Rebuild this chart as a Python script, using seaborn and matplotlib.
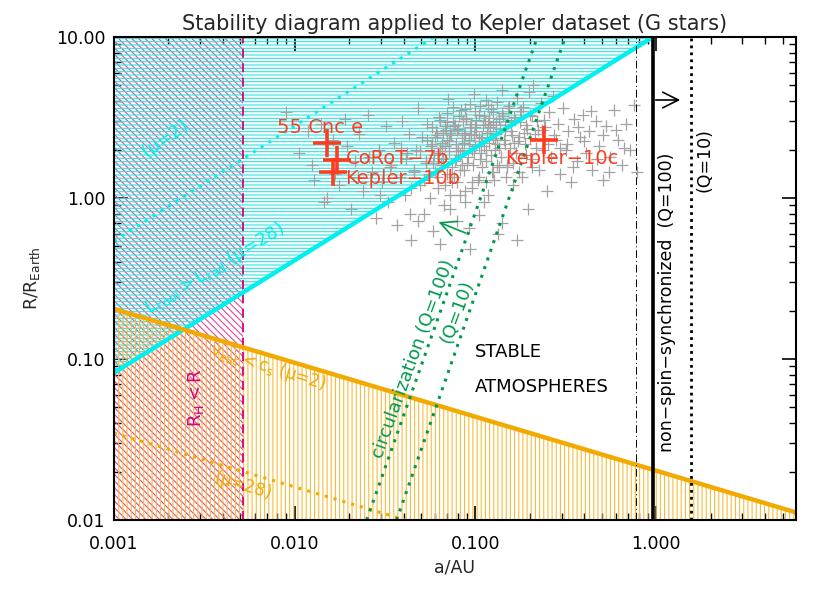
import numpy as np
import pandas as pd
import matplotlib
matplotlib.use("Agg")
import matplotlib.pyplot as plt
import seaborn as sns

# ---- data ----
# Kepler candidates (G stars): semi-major axis [AU], radius [R_Earth]
kepler_a = [
    0.0090, 0.0105, 0.0118, 0.0128, 0.0140, 0.0150, 0.0162, 0.0175, 0.0190, 0.0205,
    0.0215, 0.0228, 0.0240, 0.0255, 0.0268, 0.0280, 0.0292, 0.0305, 0.0318, 0.0330,
    0.0342, 0.0355, 0.0368, 0.0380, 0.0392, 0.0405, 0.0418, 0.0430, 0.0442, 0.0455,
    0.0468, 0.0480, 0.0492, 0.0505, 0.0518, 0.0530, 0.0542, 0.0555, 0.0568, 0.0580,
    0.0592, 0.0605, 0.0618, 0.0630, 0.0642, 0.0655, 0.0668, 0.0680, 0.0692, 0.0705,
    0.0718, 0.0730, 0.0742, 0.0755, 0.0768, 0.0780, 0.0792, 0.0805, 0.0818, 0.0830,
    0.0845, 0.0860, 0.0875, 0.0890, 0.0905, 0.0920, 0.0935, 0.0950, 0.0965, 0.0980,
    0.0995, 0.1010, 0.1030, 0.1050, 0.1070, 0.1090, 0.1110, 0.1130, 0.1150, 0.1170,
    0.1190, 0.1210, 0.1230, 0.1255, 0.1280, 0.1305, 0.1330, 0.1355, 0.1380, 0.1405,
    0.1430, 0.1460, 0.1490, 0.1520, 0.1550, 0.1580, 0.1610, 0.1640, 0.1670, 0.1700,
    0.1735, 0.1770, 0.1805, 0.1840, 0.1880, 0.1920, 0.1960, 0.2000, 0.2045, 0.2090,
    0.2140, 0.2190, 0.2240, 0.2300, 0.2360, 0.2420, 0.2480, 0.2550, 0.2620, 0.2700,
    0.2780, 0.2860, 0.2950, 0.3050, 0.3150, 0.3260, 0.3380, 0.3500, 0.3630, 0.3770,
    0.3920, 0.4080, 0.4250, 0.4430, 0.4620, 0.4830, 0.5050, 0.5300, 0.5560, 0.5840,
    0.6140, 0.6460, 0.6800, 0.7150, 0.7500, 0.7850, 0.0620, 0.0700, 0.0780, 0.0860,
    0.0640, 0.0720, 0.0800, 0.0880, 0.0960, 0.1040, 0.1120, 0.1200, 0.1280, 0.1360,
    0.0580, 0.0660, 0.0740, 0.0820, 0.0900, 0.0980, 0.1060, 0.1140, 0.1220, 0.1320,
    0.0540, 0.0610, 0.0690, 0.0770, 0.0850, 0.0930, 0.1010, 0.1100, 0.1190, 0.1300,
    0.0480, 0.0560, 0.0640, 0.0720, 0.0820, 0.0920, 0.1040, 0.1180, 0.1400, 0.1700,
    0.0440, 0.0520, 0.0600, 0.0680, 0.0760, 0.0860, 0.0960, 0.1080, 0.1260, 0.1500,
    0.0575, 0.0635, 0.0695, 0.0755, 0.0815, 0.0875, 0.0935, 0.0995, 0.1065, 0.1145,
    0.1225, 0.1315, 0.1415, 0.1525, 0.1645, 0.1775, 0.1915, 0.2065, 0.2225, 0.2395,
    0.0655, 0.0715, 0.0785, 0.0845, 0.0915, 0.0985, 0.1075, 0.1165, 0.1255, 0.1355,
    0.1465, 0.1585, 0.1715, 0.1855, 0.2005, 0.2165, 0.2335, 0.2515, 0.2715, 0.2935,
    0.0415, 0.0455, 0.0495, 0.0535, 0.0575, 0.0615, 0.0665, 0.0725, 0.0795, 0.0875,
    0.0955, 0.1045, 0.1145, 0.1245, 0.1355, 0.1475, 0.1605, 0.1745, 0.1895, 0.2055,
    0.0125, 0.0145, 0.0168, 0.0195, 0.0225, 0.0258, 0.0296, 0.0338, 0.0385, 0.0435,
    0.3200, 0.3450, 0.3700, 0.4000, 0.4350, 0.4700, 0.5100, 0.5500, 0.6000, 0.6600,
    0.0700, 0.0790, 0.0890, 0.1000, 0.1120, 0.1250, 0.1400, 0.1570, 0.1760, 0.1970,
    0.0600, 0.0680, 0.0760, 0.0840, 0.0940, 0.1050, 0.1170, 0.1310, 0.1460, 0.1630,
]
kepler_r = [
    3.40, 1.90, 2.60, 1.30, 2.90, 1.00, 2.30, 1.20, 3.10, 0.85,
    1.70, 2.50, 1.10, 3.30, 1.45, 0.75, 2.00, 1.25, 2.80, 0.95,
    1.60, 2.20, 0.68, 1.35, 3.00, 1.05, 1.90, 2.50, 0.55, 1.50,
    2.00, 3.60, 1.20, 2.40, 0.80, 1.70, 2.90, 1.40, 2.10, 0.62,
    1.85, 2.60, 1.15, 3.20, 1.60, 2.20, 0.90, 2.80, 1.40, 4.10,
    1.95, 2.45, 1.25, 3.00, 1.70, 2.15, 0.72, 2.70, 1.50, 3.50,
    2.00, 2.55, 1.10, 3.10, 1.80, 2.30, 0.48, 2.90, 1.60, 4.40,
    2.10, 2.60, 1.30, 3.30, 1.90, 2.40, 0.95, 3.00, 1.70, 3.80,
    2.20, 2.75, 1.45, 3.40, 2.00, 2.50, 0.60, 3.10, 1.80, 4.70,
    2.30, 2.85, 1.55, 3.60, 2.05, 2.60, 1.20, 3.20, 1.90, 4.20,
    2.40, 2.95, 1.35, 3.70, 2.15, 2.70, 0.85, 3.30, 1.75, 5.00,
    2.50, 3.00, 1.50, 3.90, 2.00, 2.75, 1.10, 3.40, 1.80, 4.30,
    2.30, 2.90, 1.40, 3.60, 2.00, 2.60, 1.25, 3.10, 1.70, 2.40,
    3.30, 1.90, 2.60, 1.50, 3.00, 2.10, 1.30, 2.80, 1.80, 3.50,
    2.30, 1.60, 2.90, 2.00, 3.80, 1.45, 1.90, 2.30, 1.75, 2.20,
    2.05, 2.55, 1.95, 2.45, 2.00, 2.35, 2.10, 2.60, 2.30, 2.70,
    1.65, 1.75, 1.55, 1.85, 1.65, 1.90, 1.75, 2.00, 1.85, 2.15,
    2.30, 2.45, 2.65, 2.85, 3.00, 2.75, 3.05, 2.85, 3.15, 2.95,
    0.72, 1.00, 0.52, 0.85, 1.05, 0.65, 0.78, 1.05, 0.70, 0.55,
    1.15, 1.30, 1.45, 1.20, 1.35, 1.50, 1.25, 1.55, 1.30, 1.60,
    2.75, 3.05, 3.35, 3.65, 3.25, 3.55, 3.85, 3.45, 3.75, 4.05,
    3.55, 3.95, 3.25, 3.75, 3.05, 3.45, 2.85, 3.25, 2.65, 3.05,
    1.95, 2.25, 2.05, 2.35, 2.15, 2.45, 2.25, 2.55, 2.35, 2.05,
    2.15, 2.45, 2.25, 2.55, 2.35, 2.05, 2.65, 2.15, 2.45, 2.05,
    1.75, 1.45, 1.95, 1.65, 2.15, 1.35, 2.55, 1.05, 1.25, 0.95,
    1.15, 1.35, 1.25, 1.45, 1.55, 1.35, 1.65, 1.45, 1.85, 1.55,
    1.60, 0.95, 1.40, 2.10, 1.35, 1.80, 1.05, 1.55, 2.05, 0.80,
    2.15, 1.55, 2.75, 2.25, 3.45, 1.75, 2.45, 1.45, 2.65, 2.05,
    2.95, 2.65, 3.15, 2.75, 3.25, 2.85, 3.35, 2.95, 3.45, 4.55,
    2.40, 2.10, 2.80, 1.60, 2.50, 2.10, 2.90, 1.60, 2.60, 2.20,
]

# known planets
planet_names = ["55 Cnc e", "CoRoT\u22127b", "Kepler\u221210b", "Kepler\u221210c"]
planet_a = [0.0150, 0.0171, 0.0162, 0.238]
planet_r = [2.20, 1.72, 1.45, 2.29]

# boundary lines (end points, straight on log-log)
lcool_a, lcool_r = [0.001, 0.96], [0.082, 10.0]         # L_cool > L_rad (mu=28)
lcool2_a, lcool2_r = [0.001, 0.059], [0.54, 10.0]       # (mu=2)
vesc_a, vesc_r = [0.001, 6.0], [0.205, 0.0111]          # v_esc < c_s (mu=2)
vesc28_a, vesc28_r = [0.001, 0.041], [0.0347, 0.01]     # (mu=28)
circ100_a, circ100_r = [0.025, 0.22], [0.01, 10.0]      # circularization Q=100
circ10_a, circ10_r = [0.0366, 0.314], [0.01, 10.0]      # Q=10
roche_a = 0.0052          # R_H < R
sync100_a = 0.96          # non-spin-synchronized Q=100
sync10_a = 1.56           # Q=10
dashdot_a = 0.776

CYAN = "#00f0f0"
CYAN_H = "#2ee4e4"
ORANGE = "#f2a900"
ORANGE_H = "#f6bd3c"
PINK_H = "#e2479a"
MAGENTA = "#d6007c"
GREEN = "#00994d"
RED = "#ff3c1e"
GREY = "#a3a3a3"

sns.set_theme(style="ticks")
plt.rcParams["font.family"] = ["DejaVu Sans"]
plt.rcParams["mathtext.default"] = "regular"
plt.rcParams["hatch.linewidth"] = 0.8

fig = plt.figure(figsize=(8.3, 5.93), dpi=100)
ax = fig.add_axes([0.1373, 0.1231, 0.8217, 0.8145])
ax.set_xscale("log")
ax.set_yscale("log")
ax.set_xlim(0.001, 5.93)
ax.set_ylim(0.01, 10.0)

# hatched regions
ax.fill_between([0.001, roche_a], [0.01, 0.01], [10.0, 10.0], facecolor="none",
                edgecolor=PINK_H, hatch="\\\\\\\\\\", linewidth=0, zorder=1)
ax.fill_between(lcool_a, lcool_r, [10.0, 10.0], facecolor="none",
                edgecolor=CYAN_H, hatch="-----", linewidth=0, zorder=1)
ax.fill_between(vesc_a, [0.01, 0.01], vesc_r, facecolor="none",
                edgecolor=ORANGE_H, hatch="||||", linewidth=0, zorder=1)

# boundaries
ax.axvline(roche_a, color=MAGENTA, ls=(0, (5, 3)), lw=1.3, zorder=2)
sns.lineplot(x=lcool_a, y=lcool_r, color=CYAN, lw=3.2, ax=ax, zorder=4)
sns.lineplot(x=lcool2_a, y=lcool2_r, color=CYAN, lw=2.2, ls=(0, (1, 2)), ax=ax, zorder=4)
sns.lineplot(x=vesc_a, y=vesc_r, color=ORANGE, lw=3.2, ax=ax, zorder=4)
sns.lineplot(x=vesc28_a, y=vesc28_r, color=ORANGE, lw=2.2, ls=(0, (1, 2)), ax=ax, zorder=4)
sns.lineplot(x=circ100_a, y=circ100_r, color=GREEN, lw=2.2, ls=(0, (1, 2)), ax=ax, zorder=4)
sns.lineplot(x=circ10_a, y=circ10_r, color=GREEN, lw=2.2, ls=(0, (1, 2)), ax=ax, zorder=4)
ax.axvline(sync100_a, color="black", lw=2.6, zorder=4)
ax.axvline(sync10_a, color="black", lw=2.0, ls=(0, (1, 1.5)), zorder=4)
ax.axvline(dashdot_a, color="black", lw=0.7, ls=(0, (8, 3, 1, 3)), zorder=4)

# data points
kep = pd.DataFrame({"a": kepler_a, "r": kepler_r})
sns.scatterplot(data=kep, x="a", y="r", marker="+", s=70, color=GREY,
                linewidth=0.9, ax=ax, zorder=3)
pl = pd.DataFrame({"a": planet_a, "r": planet_r, "name": planet_names})
sns.scatterplot(data=pl, x="a", y="r", marker="+", s=380, color=RED,
                linewidth=2.6, ax=ax, zorder=6)

# text positions given in picture pixels, converted to axes fraction
def fx(px):
    return (px - 114) / 682.0

def fy(py):
    return (520 - py) / 483.0

lab_pos = [(277, 127), (346, 158), (345, 178), (505, 158)]
for name, (px, py) in zip(planet_names, lab_pos):
    ax.text(fx(px), fy(py), name, color=RED, fontsize=14, ha="left",
            va="center", transform=ax.transAxes, zorder=7)

txt = dict(transform=ax.transAxes, ha="center", va="center", zorder=7)
ax.text(fx(165), fy(140), "($\\mu$=2)", color=CYAN, fontsize=13, rotation=35, **txt)
ax.text(fx(215), fy(268), "$L_{cool}>L_{rad}$ ($\\mu$=28)", color=CYAN,
        fontsize=13, rotation=31, **txt)
ax.text(fx(268), fy(367), "$v_{esc}<c_s$ ($\\mu$=2)", color=ORANGE,
        fontsize=12, rotation=-17, **txt)
ax.text(fx(243), fy(485), "($\\mu$=28)", color=ORANGE, fontsize=12, rotation=-17, **txt)
ax.text(fx(196), fy(398), "$R_H<R$", color=MAGENTA, fontsize=13, rotation=90, **txt)
ax.text(fx(413), fy(359), "circularization (Q=100)", color=GREEN, fontsize=13,
        rotation=70, **txt)
ax.text(fx(457), fy(312), "(Q=10)", color=GREEN, fontsize=13, rotation=70, **txt)
ax.text(fx(475), fy(352), "STABLE", color="black", fontsize=13,
        ha="left", va="center", transform=ax.transAxes)
ax.text(fx(475), fy(387), "ATMOSPHERES", color="black", fontsize=13,
        ha="left", va="center", transform=ax.transAxes)
ax.text(fx(667), fy(302), "non\u2212spin\u2212synchronized  (Q=100)", color="black",
        fontsize=12.5, rotation=90, **txt)
ax.text(fx(705), fy(160), "(Q=10)", color="black", fontsize=12.5, rotation=90, **txt)

# arrows
ax.annotate("", xy=(fx(683), fy(100)), xytext=(fx(653), fy(100)),
            xycoords="axes fraction", textcoords="axes fraction",
            arrowprops=dict(arrowstyle="->", color="black", lw=1.2,
                            mutation_scale=28), zorder=7)
ax.annotate("", xy=(fx(436), fy(221)), xytext=(fx(468), fy(234)),
            xycoords="axes fraction", textcoords="axes fraction",
            arrowprops=dict(arrowstyle="->", color=GREEN, lw=1.2,
                            mutation_scale=28), zorder=7)

# axes styling
ax.set_xticks([0.001, 0.01, 0.1, 1.0])
ax.set_xticklabels(["0.001", "0.010", "0.100", "1.000"])
ax.set_yticks([0.01, 0.1, 1.0, 10.0])
ax.set_yticklabels(["0.01", "0.10", "1.00", "10.00"])
ax.tick_params(which="both", direction="in", top=True, right=True,
               colors="black", labelsize=12.5)
ax.tick_params(which="major", length=10, width=1.2)
ax.tick_params(which="minor", length=5, width=1.0)
ax.tick_params(axis="x", pad=11)
ax.tick_params(axis="y", pad=6)
for sp in ax.spines.values():
    sp.set_color("black")
    sp.set_linewidth(1.5)
    sp.set_zorder(8)

ax.set_xlabel("a/AU", fontsize=12.5, labelpad=4)
ax.set_ylabel("R/R$_{Earth}$", fontsize=12.5, labelpad=10)
ax.set_title("Stability diagram applied to Kepler dataset (G stars)",
             fontsize=15, pad=5)

fig.savefig("out.png", dpi=100)
plt.close(fig)
